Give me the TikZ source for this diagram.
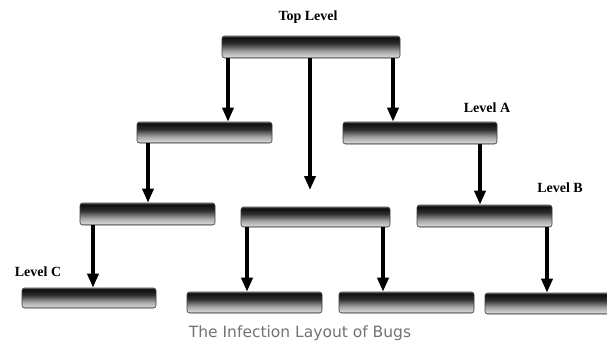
\documentclass[tikz,border=0pt]{standalone}
\usepackage{fontspec}
\setmainfont{Liberation Serif}
\newfontfamily\capfont{DejaVu Sans}
\usetikzlibrary{arrows.meta}
\pgfdeclareverticalshading{barshade}{100bp}{color(0bp)=(black!55); color(25bp)=(black!55); color(29bp)=(black!18); color(40bp)=(black!35); color(58bp)=(black!82); color(72bp)=(black!95); color(75bp)=(black!60); color(100bp)=(black!60)}
\tikzset{
  bar/.style={draw=black!75, line width=0.6pt, rounded corners=2.5pt, shading=barshade, inner sep=0pt, minimum height=21pt},
  arr/.style={line width=3.6pt, -{Triangle[width=11pt,length=14pt]}, shorten >=0pt},
  lvl/.style={font=\fontsize{14}{15}\selectfont\bfseries, inner sep=0pt},
}
\begin{document}
\begin{tikzpicture}[x=1pt,y=-1pt]
\useasboundingbox (0,0) rectangle (607,343);
\clip (0,0) rectangle (607,343);
\fill[white] (0,0) rectangle (607,343);
% boxes
\node[bar, minimum width=178pt, minimum height=22pt] (T) at (311,47) {};
\node[bar, minimum width=135pt] (A1) at (204.5,132.5) {};
\node[bar, minimum width=154pt, minimum height=22pt] (A2) at (420,133) {};
\node[bar, minimum width=135pt, minimum height=22pt] (B1) at (147.5,214) {};
\node[bar, minimum width=149pt, minimum height=20pt] (B2) at (315.5,217) {};
\node[bar, minimum width=135pt, minimum height=22pt] (B3) at (484.5,216) {};
\node[bar, minimum width=134pt, minimum height=20pt] (C1) at (89,298) {};
\node[bar, minimum width=135pt] (C2) at (254.5,302.5) {};
\node[bar, minimum width=135pt] (C3) at (406.5,302.5) {};
\node[bar, minimum width=135pt] (C4) at (552.5,303.5) {};
\coordinate (mid) at (310,190);
% arrows
\draw[arr] (228,0 |- T.south) -- (228,0 |- A1.north);
\draw[arr] (393,0 |- T.south) -- (393,0 |- A2.north);
\draw[arr] (310,0 |- T.south) -- (mid);
\draw[arr] (148,0 |- A1.south) -- (148,0 |- B1.north);
\draw[arr] (480,0 |- A2.south) -- (480,0 |- B3.north);
\draw[arr] (93,0 |- B1.south) -- (93,0 |- C1.north);
\draw[arr] (247,0 |- B2.south) -- (247,0 |- C2.north);
\draw[arr] (383,0 |- B2.south) -- (383,0 |- C3.north);
\draw[arr] (547,0 |- B3.south) -- (547,0 |- C4.north);
% labels
\node[lvl] (lt) at (308,17) {Top Level};
\node[lvl] (la) at (487,108) {Level A};
\node[lvl] (lb) at (560,188) {Level B};
\node[lvl] (lc) at (38,272) {Level C};
\node[font=\capfont\fontsize{15.5}{17}\selectfont, text=black!55, inner sep=0pt] (cap) at (300,333) {The Infection Layout of Bugs};
\end{tikzpicture}
\end{document}
